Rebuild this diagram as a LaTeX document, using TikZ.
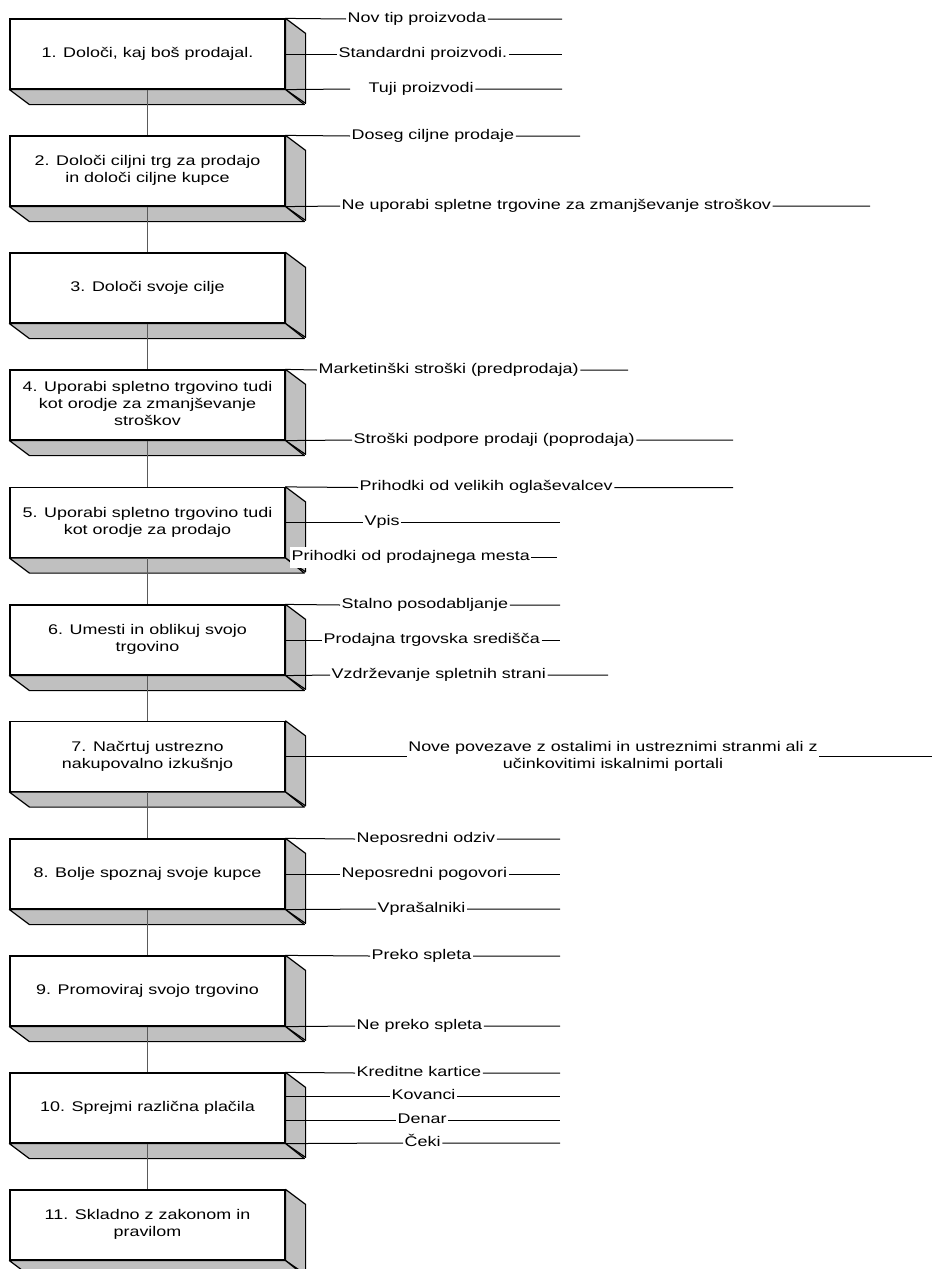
\documentclass[tikz,border=0pt]{standalone}
\usepackage{fontspec}
\setmainfont{Liberation Sans}
\usetikzlibrary{calc}
\definecolor{sidegray}{RGB}{192,192,192}
\definecolor{spinegray}{RGB}{90,90,90}
\newcommand{\st}[1]{\scalebox{1.28}[1]{\begin{tabular}{@{}c@{}}#1\end{tabular}}}
\tikzset{
  front/.style={draw=black, line width=1.2pt, fill=white, minimum width=275pt,
    minimum height=70pt, inner sep=0pt, font=\fontsize{14}{17}\selectfont},
  side/.style={draw=black, line width=1.2pt, fill=sidegray, line join=round},
  lab/.style={anchor=west, inner xsep=1.5pt, inner ysep=0pt, font=\fontsize{14}{17}\selectfont},
  leader/.style={draw=black, line width=1pt},
  spine/.style={draw=spinegray, line width=1.3pt},
}
\newcommand{\depth}[1]{%
  \draw[side] (#1.north east) -- ++(20,15) -- ++(0,70) -- (#1.south east) -- cycle;
  \draw[side] (#1.south west) -- ++(20,15) -- ++(275,0) -- (#1.south east) -- cycle;
}
\begin{document}
\begin{tikzpicture}[x=1pt,y=-1pt]
\useasboundingbox[fill=white] (0,0) rectangle (933,1269);

% boxes
\node[front] (b1)  at (147.5,54)     {\st{1. Določi, kaj boš prodajal.}};
\node[front] (b2)  at (147.5,171)    {\st{2. Določi ciljni trg za prodajo\\in določi ciljne kupce}};
\node[front] (b3)  at (147.5,288)    {\st{3. Določi svoje cilje}};
\node[front] (b4)  at (147.5,405)    {\st{4. Uporabi spletno trgovino tudi\\kot orodje za zmanjševanje\\stroškov}};
\node[front] (b5)  at (147.5,522.5)  {\st{5. Uporabi spletno trgovino tudi\\kot orodje za prodajo}};
\node[front] (b6)  at (147.5,640)    {\st{6. Umesti in oblikuj svojo\\trgovino}};
\node[front] (b7)  at (147.5,756.5)  {\st{7. Načrtuj ustrezno\\nakupovalno izkušnjo}};
\node[front] (b8)  at (147.5,874)    {\st{8. Bolje spoznaj svoje kupce}};
\node[front] (b9)  at (147.5,991)    {\st{9. Promoviraj svojo trgovino}};
\node[front] (b10) at (147.5,1108)   {\st{10. Sprejmi različna plačila}};
\node[front] (b11) at (147.5,1225)   {\st{11. Skladno z zakonom in\\pravilom}};

\depth{b1}\depth{b2}\depth{b3}\depth{b4}\depth{b5}\depth{b6}
\depth{b7}\depth{b8}\depth{b9}\depth{b10}\depth{b11}

% spine
\draw[spine] (b1.south) -- (b2.north);
\draw[spine] (b2.south) -- (b3.north);
\draw[spine] (b3.south) -- (b4.north);
\draw[spine] (b4.south) -- (b5.north);
\draw[spine] (b5.south) -- (b6.north);
\draw[spine] (b6.south) -- (b7.north);
\draw[spine] (b7.south) -- (b8.north);
\draw[spine] (b8.south) -- (b9.north);
\draw[spine] (b9.south) -- (b10.north);
\draw[spine] (b10.south) -- (b11.north);

% labels box 1
\node[lab] (n11) at (346,19) {\st{Nov tip proizvoda}};
\node[lab] (n12) at (337,54) {\st{Standardni proizvodi.}};
\node[lab] (n13) at (350,89) {\hspace*{17pt}\st{Tuji proizvodi}};
\coordinate (e11) at (562,19); \coordinate (e12) at (562,54); \coordinate (e13) at (562,89);
\draw[leader] (b1.north east) -- (n11.west) (n11.east) -- (e11);
\draw[leader] (b1.east) -- (n12.west) (n12.east) -- (e12);
\draw[leader] (b1.south east) -- (n13.west) (n13.east) -- (e13);

% box 2
\node[lab] (n21) at (350,136) {\st{Doseg ciljne prodaje}};
\node[lab] (n22) at (340,206) {\st{Ne uporabi spletne trgovine za zmanjševanje stroškov}};
\coordinate (e21) at (580,136); \coordinate (e22) at (870,206);
\draw[leader] (b2.north east) -- (n21.west) (n21.east) -- (e21);
\draw[leader] (b2.south east) -- (n22.west) (n22.east) -- (e22);

% box 4
\node[lab] (n41) at (317,370) {\st{Marketinški stroški (predprodaja)}};
\node[lab] (n42) at (352,440) {\st{Stroški podpore prodaji (poprodaja)}};
\coordinate (e41) at (628,370); \coordinate (e42) at (733,440);
\draw[leader] (b4.north east) -- (n41.west) (n41.east) -- (e41);
\draw[leader] (b4.south east) -- (n42.west) (n42.east) -- (e42);

% box 5
\node[lab] (n51) at (358,487.5) {\st{Prihodki od velikih oglaševalcev}};
\node[lab] (n52) at (363,522.5) {\st{Vpis}};
\node[lab, fill=white, inner ysep=2pt] (n53) at (290,557) {\st{Prihodki od prodajnega mesta}};
\coordinate (e51) at (733,487.5); \coordinate (e52) at (560,522.5); \coordinate (e53) at (557,557);
\draw[leader] (b5.north east) -- (n51.west) (n51.east) -- (e51);
\draw[leader] (b5.east) -- (n52.west) (n52.east) -- (e52);
\draw[leader] (n53.east) -- (e53);

% box 6
\node[lab] (n61) at (340,605) {\st{Stalno posodabljanje}};
\node[lab] (n62) at (322,640) {\st{Prodajna trgovska središča}};
\node[lab] (n63) at (330,675) {\st{Vzdrževanje spletnih strani}};
\coordinate (e61) at (560,605); \coordinate (e62) at (560,640); \coordinate (e63) at (608,675);
\draw[leader] (b6.north east) -- (n61.west) (n61.east) -- (e61);
\draw[leader] (b6.east) -- (n62.west) (n62.east) -- (e62);
\draw[leader] (b6.south east) -- (n63.west) (n63.east) -- (e63);

% box 7
\node[lab, anchor=center] (n71) at (613,757) {\st{Nove povezave z ostalimi in ustreznimi stranmi ali z\\učinkovitimi iskalnimi portali}};
\coordinate (e71) at (932,756.5);
\draw[leader] (b7.east) -- (b7.east -| n71.west) (n71.east |- b7.east) -- (e71);

% box 8
\node[lab] (n81) at (355,839) {\st{Neposredni odziv}};
\node[lab] (n82) at (340,874) {\st{Neposredni pogovori}};
\node[lab] (n83) at (376,909) {\st{Vprašalniki}};
\coordinate (e81) at (560,839); \coordinate (e82) at (560,874); \coordinate (e83) at (560,909);
\draw[leader] (b8.north east) -- (n81.west) (n81.east) -- (e81);
\draw[leader] (b8.east) -- (n82.west) (n82.east) -- (e82);
\draw[leader] (b8.south east) -- (n83.west) (n83.east) -- (e83);

% box 9
\node[lab] (n91) at (370,956) {\st{Preko spleta}};
\node[lab] (n92) at (355,1026) {\st{Ne preko spleta}};
\coordinate (e91) at (560,956); \coordinate (e92) at (560,1026);
\draw[leader] (b9.north east) -- (n91.west) (n91.east) -- (e91);
\draw[leader] (b9.south east) -- (n92.west) (n92.east) -- (e92);

% box 10
\node[lab] (k1) at (355,1073) {\st{Kreditne kartice}};
\node[lab] (k2) at (390,1096.5) {\st{Kovanci}};
\node[lab] (k3) at (396,1120) {\st{Denar}};
\node[lab] (k4) at (403,1143) {\st{Čeki}};
\coordinate (f1) at (560,1073); \coordinate (f2) at (560,1096.5);
\coordinate (f3) at (560,1120); \coordinate (f4) at (560,1143);
\draw[leader] (b10.north east) -- (k1.west) (k1.east) -- (f1);
\draw[leader] (b10.east |- k2.west) -- (k2.west) (k2.east) -- (f2);
\draw[leader] (b10.east |- k3.west) -- (k3.west) (k3.east) -- (f3);
\draw[leader] (b10.south east) -- (k4.west) (k4.east) -- (f4);
\end{tikzpicture}
\end{document}
